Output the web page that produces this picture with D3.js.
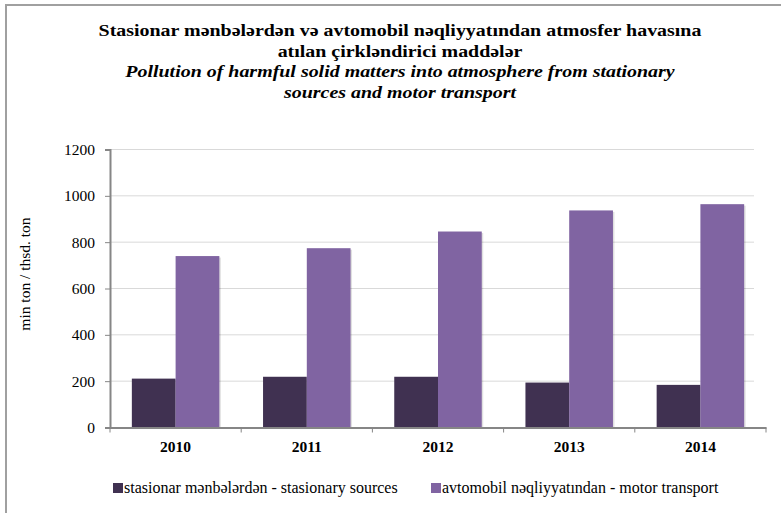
<!DOCTYPE html>
<html>
<head>
<meta charset="utf-8">
<script src="https://cdn.jsdelivr.net/npm/d3@7/dist/d3.min.js"></script>
</head>
<body style="margin:0; background:#fff">
<svg id="chart" width="781" height="513"></svg>
<script>
// chart data
const years = ["2010", "2011", "2012", "2013", "2014"]
const stationary = [211, 219, 219, 194, 184]
const motor = [740, 774, 846, 937, 964]
const yTicks = [0, 200, 400, 600, 800, 1000, 1200]
const seriesNames = ["stasionar mənbələrdən - stasionary sources", "avtomobil nəqliyyatından - motor transport"]
const colors = ["#403151", "#8064a2"]

const FONT = "Liberation Serif"
const svg = d3.select("#chart")

// outer frame (only top and left edges visible in the picture)
svg.append("rect")
    .attr("x", 6).attr("y", 5)
    .attr("width", 800).attr("height", 600)
    .attr("fill", "none")
    .attr("stroke", "#a0a0a0")
    .attr("stroke-width", 2)

// titles - the original face is a bit wider than Liberation Serif, so stretch it
const titleLines = [
    { t: "Stasionar mənbələrdən və avtomobil nəqliyyatından atmosfer havasına", y: 36, style: "normal" },
    { t: "atılan çirkləndirici maddələr", y: 56.5, style: "normal" },
    { t: "Pollution of harmful solid matters into atmosphere from stationary", y: 77, style: "italic" },
    { t: "sources and motor transport", y: 97.5, style: "italic" }
]
svg.selectAll(".title")
    .data(titleLines)
    .join("text")
    .attr("class", "title")
    .attr("transform", d => `translate(400,${d.y}) scale(1.14,1)`)
    .attr("text-anchor", "middle")
    .attr("font-family", FONT)
    .attr("font-size", 17.5)
    .attr("font-weight", "bold")
    .attr("font-style", d => d.style)
    .attr("fill", "#000")
    .text(d => d.t)

// scales
const plot = { left: 110, right: 766, top: 149.5, bottom: 427.5 }
const x = d3.scaleBand()
    .domain(years)
    .range([plot.left, plot.right])
    .paddingInner(0.333)
    .paddingOuter(0.1665)
const y = d3.scaleLinear()
    .domain([0, 1200])
    .range([plot.bottom, plot.top])
const xs = d3.scaleBand()
    .domain([0, 1])
    .range([0, x.bandwidth()])

// gridlines
svg.append("g")
    .selectAll("line")
    .data(yTicks.slice(1))
    .join("line")
    .attr("x1", plot.left).attr("x2", plot.right - 12)
    .attr("y1", d => y(d)).attr("y2", d => y(d))
    .attr("stroke", "#d9d9d9")
    .attr("stroke-width", 1)

// bars
const rows = years.map((yr, i) => ({ yr, vals: [stationary[i], motor[i]] }))
const groups = svg.append("g")
    .selectAll("g")
    .data(rows)
    .join("g")
    .attr("transform", d => `translate(${x(d.yr)},0)`)

// faint shadow behind bars
groups.selectAll(".shadow")
    .data(d => d.vals)
    .join("rect")
    .attr("class", "shadow")
    .attr("x", (d, i) => xs(i) + 1.5)
    .attr("y", d => y(d) + 1.5)
    .attr("width", xs.bandwidth())
    .attr("height", d => plot.bottom - y(d))
    .attr("fill", "#000")
    .attr("opacity", 0.12)

groups.selectAll(".bar")
    .data(d => d.vals)
    .join("rect")
    .attr("class", "bar")
    .attr("x", (d, i) => xs(i))
    .attr("y", d => y(d))
    .attr("width", xs.bandwidth())
    .attr("height", d => plot.bottom - y(d))
    .attr("fill", (d, i) => colors[i])

// y axis
const yAxis = d3.axisLeft(y).tickValues(yTicks).tickFormat(d3.format("d")).tickSize(5).tickPadding(10)
const gy = svg.append("g")
    .attr("transform", `translate(${plot.left},0)`)
    .call(yAxis)
    .attr("font-family", FONT)
gy.select(".domain").attr("stroke", "#868686").attr("stroke-width", 2)
gy.selectAll(".tick line").attr("stroke", "#868686")
gy.selectAll(".tick text")
    .attr("font-family", FONT)
    .attr("font-size", 15.5)
    .attr("fill", "#000")

// x axis
const gx = svg.append("g")
    .attr("transform", `translate(0,${plot.bottom})`)
    .call(d3.axisBottom(x).tickSize(0).tickPadding(13))
    .attr("font-family", FONT)
gx.select(".domain").attr("stroke", "#868686").attr("stroke-width", 2)
gx.selectAll(".tick text")
    .attr("font-family", FONT)
    .attr("font-size", 15.5)
    .attr("font-weight", "bold")
    .attr("fill", "#000")
// category boundary ticks
const step = x.step()
svg.append("g")
    .selectAll("line")
    .data(d3.range(years.length + 1))
    .join("line")
    .attr("x1", i => plot.left + i * step)
    .attr("x2", i => plot.left + i * step)
    .attr("y1", plot.bottom)
    .attr("y2", plot.bottom + 5)
    .attr("stroke", "#868686")
    .attr("stroke-width", 1)

// y axis label
svg.append("text")
    .attr("transform", "translate(30,274) rotate(-90)")
    .attr("text-anchor", "middle")
    .attr("font-family", FONT)
    .attr("font-size", 15.5)
    .attr("fill", "#000")
    .text("min ton / thsd. ton")

// legend
const legendX = [113, 431]
const legend = svg.append("g")
    .selectAll("g")
    .data(seriesNames)
    .join("g")
    .attr("transform", (d, i) => `translate(${legendX[i]},481)`)
legend.append("rect")
    .attr("width", 10).attr("height", 10)
    .attr("y", 2)
    .attr("fill", (d, i) => colors[i])
legend.append("text")
    .attr("x", 11)
    .attr("y", 11.5)
    .attr("font-family", FONT)
    .attr("font-size", 16)
    .attr("fill", "#000")
    .text(d => d)
</script>
</body>
</html>
